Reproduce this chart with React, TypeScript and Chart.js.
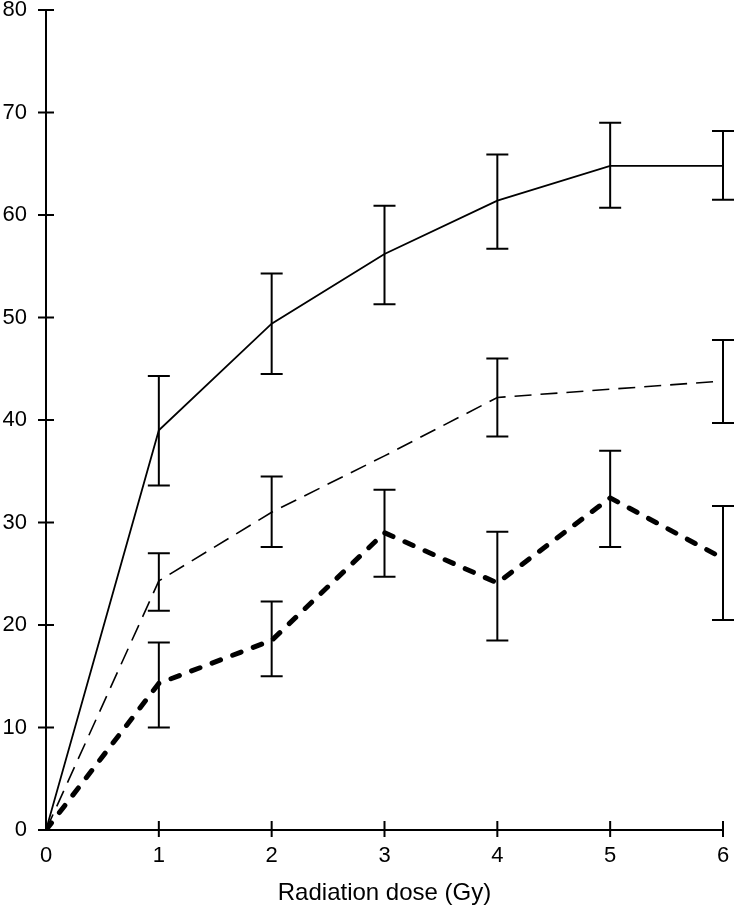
import React, { useEffect, useRef } from "react";
import { Chart, registerables } from "chart.js";

Chart.register(...registerables);

const doses = [0, 1, 2, 3, 4, 5, 6];
const yTicks = [0, 10, 20, 30, 40, 50, 60, 70, 80];
const xTitle = "Radiation dose (Gy)";

const solidValues = [0, 39.0, 49.4, 56.2, 61.4, 64.8, 64.8];
const solidLow = [null, 33.6, 44.5, 51.3, 56.7, 60.7, 61.5];
const solidHigh = [null, 44.3, 54.3, 60.9, 65.9, 69.0, 68.2];

const thinDashValues = [0, 24.3, 31.0, 36.5, 42.2, 43.0, 43.8];
const thinDashLow = [null, 21.4, 27.6, null, 38.4, null, 39.7];
const thinDashHigh = [null, 27.0, 34.5, null, 46.0, null, 47.8];

const thickDashValues = [0, 14.3, 18.5, 29.0, 24.1, 32.4, 26.5];
const thickDashLow = [null, 10.0, 15.0, 24.7, 18.5, 27.6, 20.5];
const thickDashHigh = [null, 18.3, 22.3, 33.2, 29.1, 37.0, 31.6];

const FONT = "'Liberation Sans', Arial, Helvetica, sans-serif";

const errorBarPlugin = {
  id: "errorBars",
  afterDatasetsDraw(chart: any) {
    const { ctx } = chart;
    const xs = chart.scales.x;
    const ys = chart.scales.y;
    const sets = [
      [solidLow, solidHigh],
      [thinDashLow, thinDashHigh],
      [thickDashLow, thickDashHigh],
    ];
    ctx.save();
    ctx.strokeStyle = "#000";
    ctx.lineWidth = 2;
    ctx.setLineDash([]);
    ctx.lineCap = "butt";
    for (const [lo, hi] of sets) {
      doses.forEach((d, i) => {
        const l = lo[i];
        const h = hi[i];
        if (l == null || h == null) return;
        const px = xs.getPixelForValue(d);
        const pl = ys.getPixelForValue(l);
        const ph = ys.getPixelForValue(h);
        ctx.beginPath();
        ctx.moveTo(px, pl);
        ctx.lineTo(px, ph);
        ctx.moveTo(px - 11, pl);
        ctx.lineTo(px + 11, pl);
        ctx.moveTo(px - 11, ph);
        ctx.lineTo(px + 11, ph);
        ctx.stroke();
      });
    }
    ctx.restore();
  },
  afterDraw(chart: any) {
    const { ctx } = chart;
    const xs = chart.scales.x;
    const ys = chart.scales.y;
    const area = chart.chartArea;
    ctx.save();
    ctx.strokeStyle = "#000";
    ctx.lineWidth = 2;
    ctx.beginPath();
    yTicks.forEach((v) => {
      const py = ys.getPixelForValue(v);
      ctx.moveTo(area.left - 8, py);
      ctx.lineTo(area.left + 8, py);
    });
    doses.forEach((d) => {
      if (d === 0) return;
      const px = xs.getPixelForValue(d);
      ctx.moveTo(px, area.bottom - 9);
      ctx.lineTo(px, area.bottom + 7);
    });
    ctx.stroke();
    ctx.restore();
  },
};

export default function App() {
  const ref = useRef<HTMLCanvasElement | null>(null);

  useEffect(() => {
    if (!ref.current) return;
    const mk = (vals: number[]) => doses.map((d, i) => ({ x: d, y: vals[i] }));
    const chart = new Chart(ref.current, {
      type: "line",
      data: {
        datasets: [
          {
            data: mk(solidValues),
            borderColor: "#000",
            borderWidth: 1.8,
            pointRadius: 0,
            fill: false,
            tension: 0,
          },
          {
            data: mk(thinDashValues),
            borderColor: "#000",
            borderWidth: 1.6,
            borderDash: [17, 9],
            pointRadius: 0,
            fill: false,
            tension: 0,
          },
          {
            data: mk(thickDashValues),
            borderColor: "#000",
            borderWidth: 5,
            borderDash: [9, 13],
            borderCapStyle: "round",
            pointRadius: 0,
            fill: false,
            tension: 0,
          },
        ],
      },
      options: {
        animation: false,
        responsive: false,
        maintainAspectRatio: false,
        layout: { padding: { top: 10, right: 11, left: 0, bottom: 0 } },
        plugins: {
          legend: { display: false },
          tooltip: { enabled: false },
        },
        scales: {
          x: {
            type: "linear",
            min: 0,
            max: 6,
            grid: { display: false, drawTicks: false },
            border: { display: true, color: "#000", width: 2 },
            ticks: {
              stepSize: 1,
              color: "#000",
              padding: 13,
              font: { family: FONT, size: 22, lineHeight: 1.2 },
            },
            title: {
              display: true,
              text: xTitle,
              color: "#000",
              padding: { top: 0, bottom: 0 },
              font: { family: FONT, size: 24, lineHeight: 1.2 },
            },
            afterFit(scale: any) {
              scale.height = 78;
              scale.paddingLeft = 0;
              scale.paddingRight = 0;
            },
          },
          y: {
            type: "linear",
            min: 0,
            max: 80,
            grid: { display: false, drawTicks: false },
            border: { display: true, color: "#000", width: 2 },
            ticks: {
              stepSize: 10,
              color: "#000",
              padding: 19,
              font: { family: FONT, size: 22, lineHeight: 0.95 },
            },
            afterFit(scale: any) {
              scale.width = 46;
              scale.paddingTop = 0;
              scale.paddingBottom = 0;
            },
          },
        },
      },
      plugins: [errorBarPlugin],
    });
    return () => chart.destroy();
  }, []);

  return (
    <div style={{ position: "fixed", left: 0, top: 0, width: 734, height: 908, background: "#fff" }}>
      <canvas ref={ref} width={734} height={908} style={{ width: 734, height: 908 }} />
    </div>
  );
}
